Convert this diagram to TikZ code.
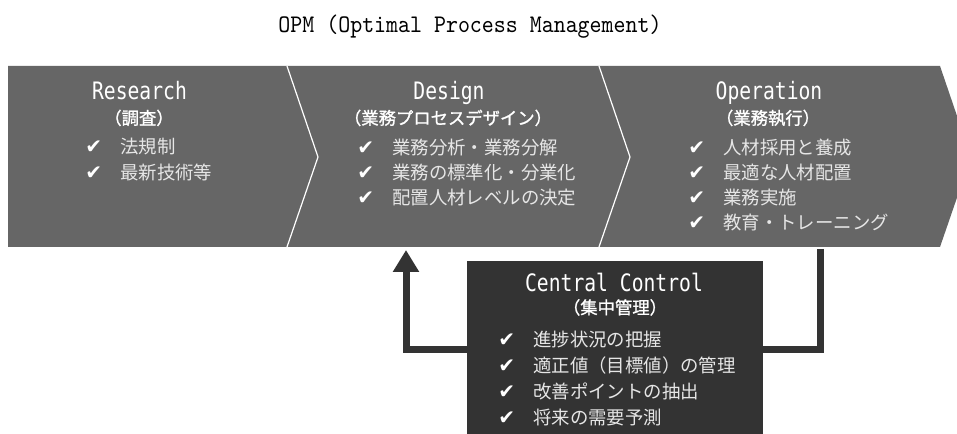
\documentclass[tikz,border=0pt]{standalone}
\usepackage{fontspec}
\usetikzlibrary{arrows.meta}
\newfontfamily\jpfont{Noto Sans CJK JP}
\newfontfamily\jpsub[FakeBold=1.2]{Noto Sans CJK JP}
\newfontfamily\hdfont[FakeStretch=0.82]{DejaVu Sans Mono}
\newfontfamily\ckfont{DejaVu Sans}
\newfontfamily\ttlfont[FakeStretch=0.9]{lmmono10-regular.otf}
\definecolor{chev}{HTML}{666666}
\definecolor{ccfill}{HTML}{333333}
\definecolor{flowc}{HTML}{333333}
\definecolor{itemc}{HTML}{E6E6E6}
\newcommand\ckm{\makebox[26.25pt][l]{\ckfont\fontsize{15}{16}\selectfont\color{white}✔}}
\begin{document}
\begin{tikzpicture}[x=0.75pt,y=-0.75pt,
 head/.style={anchor=base, inner sep=0, text=white, font=\hdfont\fontsize{18}{20}\selectfont},
 sub/.style={anchor=base, inner sep=0, text=white, font=\jpsub\fontsize{13}{15}\selectfont},
 li/.style={anchor=base west, inner sep=0, text=itemc, font=\jpfont\fontsize{13.8}{16}\selectfont},
 chevshape/.style={fill=chev},
 sepline/.style={draw=white, line width=0.9pt},
 flow/.style={draw=flowc, line width=5.25pt, -{Triangle[width=18.75pt,length=16.5pt]}},
]
\useasboundingbox (0,0) rectangle (957,434);
% chevrons
\fill[chevshape] (8,66) -- (287,66) -- (318,157) -- (287,247) -- (8,247) -- cycle;
\fill[chevshape] (287,66) -- (599,66) -- (630,157) -- (599,247) -- (287,247) -- (318,157) -- cycle;
\fill[chevshape] (599,66) -- (940,66) -- (971,157) -- (940,247) -- (599,247) -- (630,157) -- cycle;
\draw[sepline] (287,66) -- (318,157) -- (287,247);
\draw[sepline] (599,66) -- (630,157) -- (599,247);
% title
\node[anchor=base, inner sep=0, font=\ttlfont\fontsize{19}{22}\selectfont] (title) at (470,33) {OPM (Optimal Process Management)};
% feedback connector
\coordinate (opout) at (820.5,249);
\coordinate (desin) at (406,250);
\draw[flow] (opout) -- ++(0,101) -| (desin);
% central control box
\node[fill=ccfill, anchor=north west, minimum width=222pt, minimum height=132pt, inner sep=0] (cc) at (467,261) {};
% Research
\node[head] (rh) at (139.5,100) {Research};
\node[sub] (rs) at (139,124.5) {（調査）};
\node[li] (r1) at (85,154) {\ckm 法規制};
\node[li] (r2) at (85,180) {\ckm 最新技術等};
% Design
\node[head] (dh) at (449,100) {Design};
\node[sub] (ds) at (448,124.5) {（業務プロセスデザイン）};
\node[li] (d1) at (357,155) {\ckm 業務分析・業務分解};
\node[li] (d2) at (357,180) {\ckm 業務の標準化・分業化};
\node[li] (d3) at (357,205) {\ckm 配置人材レベルの決定};
% Operation
\node[head] (oh) at (769,100) {Operation};
\node[sub] (os) at (768,124.5) {（業務執行）};
\node[li] (o1) at (688,155) {\ckm 人材採用と養成};
\node[li] (o2) at (688,180) {\ckm 最適な人材配置};
\node[li] (o3) at (688,205) {\ckm 業務実施};
\node[li] (o4) at (688,230) {\ckm 教育・トレーニング};
% Central Control
\node[head] (ch) at (614,292) {Central Control};
\node[sub] (cs) at (615,314) {（集中管理）};
\node[li] (c1) at (498,347) {\ckm 進捗状況の把握};
\node[li] (c2) at (498,373) {\ckm 適正値（目標値）の管理};
\node[li] (c3) at (498,399) {\ckm 改善ポイントの抽出};
\node[li] (c4) at (498,425) {\ckm 将来の需要予測};
\end{tikzpicture}
\end{document}
